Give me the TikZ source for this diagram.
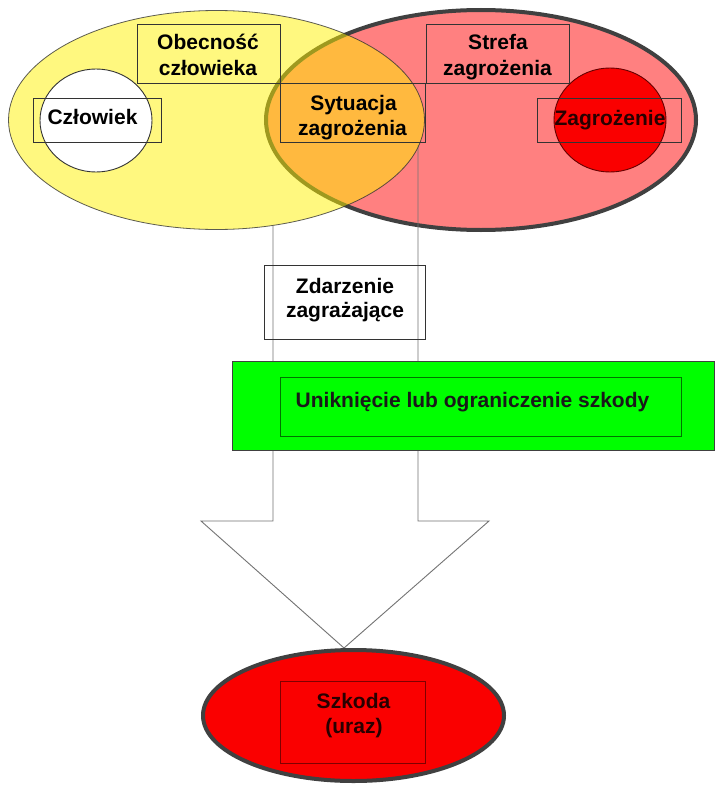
\documentclass[tikz,border=0pt]{standalone}
\usepackage{fontspec}
\setmainfont{Liberation Sans}
\usetikzlibrary{shapes.geometric}
\definecolor{pinkzone}{RGB}{255,128,128}
\definecolor{greenbox}{RGB}{0,255,0}
\definecolor{redfill}{RGB}{250,0,0}
\definecolor{darktxt}{RGB}{40,0,0}
\begin{document}
\begin{tikzpicture}[x=1pt,y=-1pt,
  box/.style={draw=black!80, line width=0.6pt, inner sep=0pt, outer sep=0pt, rectangle},
  txt/.style={anchor=base, inner sep=0pt, outer sep=0pt, font=\fontsize{21}{25}\selectfont\bfseries},
  oval/.style={ellipse, inner sep=0pt, outer sep=0pt},
  arrowline/.style={draw=black!55, line width=0.9pt}
]
\useasboundingbox[fill=white] (0,0) rectangle (723,792);

% danger zone (red ellipse)
\node[oval, fill=pinkzone, draw=black!75, line width=4pt, minimum width=430pt, minimum height=220pt] (zone) at (481,120) {};

% big block arrow outline
\coordinate (al) at (273,226);
\coordinate (ar) at (418,145);
\draw[arrowline] (al) -- (273,521) -- (201,521) -- (344,648) -- (489,521) -- (418,521) -- (ar);

% human presence (yellow ellipse, transparent)
\node[oval, fill=yellow, fill opacity=0.5, draw=black!80, draw opacity=0.8, line width=0.8pt, minimum width=416pt, minimum height=219pt] (pres) at (216.5,120) {};

% human (white circle)
\node[oval, fill=white, draw=black!80, line width=0.9pt, minimum width=112pt, minimum height=103pt] (humc) at (96,120.5) {};
% hazard (red circle)
\node[oval, fill=redfill, draw=black!60!red, line width=0.9pt, minimum width=112pt, minimum height=104pt] (hazc) at (610,120) {};

% label boxes
\node[box, minimum width=143pt, minimum height=59pt] (obec) at (208.5,53.5) {};
\node[txt] (obec1) at (208,50) {Obecność};
\node[txt] (obec2) at (208,75) {człowieka};

\node[box, minimum width=143pt, minimum height=59pt] (stref) at (497.5,53.5) {};
\begin{scope}
  \clip (stref.south west) rectangle (stref.north east);
  \node[txt] (stref1) at (498,50) {Strefa};
  \node[txt] (stref2) at (497.5,75.5) {zagrożenia};
\end{scope}

\node[box, minimum width=145pt, minimum height=59pt] (sit) at (352.5,112.5) {};
\begin{scope}
  \clip (sit.south west) rectangle (sit.north east);
  \node[txt] (sit1) at (353.5,110) {Sytuacja};
  \node[txt] (sit2) at (352.5,135.5) {zagrożenia};
\end{scope}

\node[box, minimum width=128pt, minimum height=44pt] (hum) at (97,120) {};
\node[txt] (humt) at (92.5,124) {Człowiek};

\node[box, minimum width=144pt, minimum height=44pt] (haz) at (609,120) {};
\node[txt, text=darktxt] (hazt) at (610,125) {Zagrożenie};

% hazardous event
\node[box, minimum width=161pt, minimum height=74pt] (event) at (344.5,302) {};
\node[txt] (ev1) at (345,293) {Zdarzenie};
\node[txt] (ev2) at (345,317) {zagrażające};

% avoidance / limitation of damage
\node[box, fill=greenbox, draw=black!75, line width=0.9pt, minimum width=482pt, minimum height=89pt] (avoid) at (473,406) {};
\node[box, draw=black!55!green, line width=0.7pt, minimum width=401pt, minimum height=59pt] (avoidin) at (480.5,407) {};
\node[txt, text=black!90] (avt) at (472.5,407) {Uniknięcie lub ograniczenie szkody};

% damage (injury)
\node[oval, fill=redfill, draw=black!75, line width=4pt, minimum width=301pt, minimum height=131pt] (dmg) at (353.5,715.5) {};
\node[box, draw=black!50!red, minimum width=145pt, minimum height=82pt] (dmgb) at (352.5,722) {};
\node[txt, text=darktxt] (dmg1) at (353.5,708) {Szkoda};
\node[txt, text=darktxt] (dmg2) at (354,733) {(uraz)};
\end{tikzpicture}
\end{document}
